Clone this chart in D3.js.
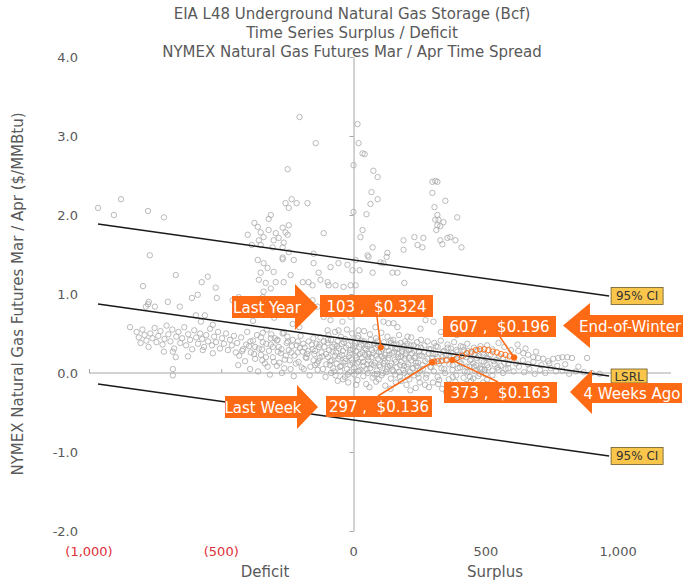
<!DOCTYPE html>
<html>
<head>
<meta charset="utf-8">
<script src="https://cdn.jsdelivr.net/npm/d3@7"></script>
<style>
  body { margin: 0; background: #fff; }
  svg text { font-family: "DejaVu Sans", Verdana, sans-serif; white-space: pre; }
</style>
</head>
<body>
<div id="chart"></div>
<script>
// ---- data (Bcf surplus/deficit vs. Mar/Apr spread, $/MMBtu) ----
const titleLines = [
    "EIA L48 Underground Natural Gas Storage (Bcf)",
    "Time Series Surplus / Deficit",
    "NYMEX Natural Gas Futures Mar / Apr Time Spread"
];
const xTicks = [-1000, -500, 0, 500, 1000];
const yTicks = [-2, -1, 0, 1, 2, 3, 4];

// regression line and 95% confidence band end points
const lsrl = [[-966, 0.873], [966, -0.038]];
const ciUpper = [[-966, 1.886], [966, 0.975]];
const ciLower = [[-966, -0.140], [966, -1.050]];

// history
const histFarLeft = [
    [-966, 2.09], [-879, 2.20], [-906, 2.00], [-777, 2.05], [-717, 1.97], [-770, 1.49], [-672, 1.24],
    [-574, 1.15], [-551, 1.22], [-521, 1.08], [-517, 0.95], [-796, 1.10], [-774, 0.90], [-777, 0.87],
    [-785, 0.84], [-751, 0.84], [-702, 0.90], [-657, 0.84], [-611, 0.95], [-589, 0.99],
    [-845, 0.58], [-596, 0.73], [-562, 0.73], [-577, 0.65], [-532, 0.61],
    [-820, 0.52], [-812, 0.45], [-805, 0.38], [-798, 0.55], [-790, 0.48], [-783, 0.41], [-775, 0.33],
    [-768, 0.50], [-760, 0.44], [-752, 0.57], [-745, 0.39], [-738, 0.47], [-730, 0.53], [-722, 0.36],
    [-715, 0.43], [-707, 0.60], [-700, 0.49], [-692, 0.40], [-685, 0.55], [-678, 0.31], [-670, 0.46],
    [-662, 0.52], [-655, 0.38], [-648, 0.44], [-640, 0.58], [-633, 0.35], [-625, 0.49], [-618, 0.42],
    [-610, 0.30], [-602, 0.54], [-595, 0.45], [-588, 0.37], [-580, 0.50], [-572, 0.43], [-565, 0.33],
    [-557, 0.48], [-550, 0.40], [-542, 0.56], [-535, 0.35], [-527, 0.46], [-520, 0.39], [-512, 0.52],
    [-505, 0.31], [-497, 0.44], [-490, 0.37], [-482, 0.50], [-475, 0.29], [-467, 0.42], [-460, 0.35],
    [-452, 0.47], [-445, 0.26],
    [-717, 0.27], [-683, 0.27], [-672, 0.20], [-626, 0.21], [-570, 0.29], [-532, 0.25], [-683, 0.05],
    [-683, -0.03], [-457, 0.92], [-434, 0.96], [-419, 0.84], [-396, 0.76]
];
const histLeft = [
    [-440, 0.38], [-432, 0.22], [-425, 0.45], [-418, 0.30], [-410, 0.15], [-402, 0.52], [-395, 0.34],
    [-388, 0.26], [-380, 0.41], [-372, 0.18], [-365, 0.48], [-358, 0.31], [-350, 0.23], [-343, 0.39],
    [-335, 0.12], [-328, 0.55], [-320, 0.28], [-313, 0.36], [-305, 0.20], [-298, 0.44], [-290, 0.09],
    [-283, 0.33], [-275, 0.25], [-268, 0.50], [-260, 0.17], [-253, 0.38], [-245, 0.29], [-238, 0.05],
    [-230, 0.42], [-223, 0.22], [-215, 0.35], [-208, 0.14], [-200, 0.47], [-193, 0.27], [-185, 0.32],
    [-178, 0.19], [-170, 0.40], [-163, 0.08], [-155, 0.30], [-148, 0.24], [-140, 0.37], [-133, 0.15],
    [-125, 0.45], [-118, 0.21], [-110, 0.33], [-103, 0.11],
    [-436, 0.10], [-421, 0.28], [-406, 0.36], [-391, 0.05], [-376, 0.24], [-361, 0.02], [-346, 0.30],
    [-331, 0.20], [-316, -0.02], [-301, 0.14], [-286, 0.27], [-271, 0.00], [-256, 0.22], [-241, 0.16],
    [-226, -0.04], [-211, 0.26], [-196, 0.07], [-181, 0.20], [-166, -0.03], [-151, 0.16], [-136, 0.04],
    [-121, 0.26], [-106, -0.05],
    [-390, 0.40], [-372, 0.33], [-350, 0.45], [-330, 0.37], [-311, 0.49], [-290, 0.41], [-272, 0.30],
    [-250, 0.46], [-233, 0.34], [-211, 0.40], [-190, 0.37], [-171, 0.28], [-152, 0.44], [-131, 0.33],
    [-112, 0.40],
    [-345, 0.16], [-325, 0.08], [-305, 0.33], [-280, 0.13], [-262, 0.06], [-248, 0.40], [-235, 0.26],
    [-218, 0.12], [-203, 0.32], [-188, 0.05], [-175, 0.24], [-158, 0.36], [-145, 0.10], [-128, 0.19],
    [-362, 1.43], [-340, 1.39], [-351, 1.27], [-325, 1.33], [-302, 1.28], [-268, 1.44], [-226, 1.43],
    [-151, 1.39], [-87, 1.34], [-57, 1.39], [-23, 1.37], [-4, 1.30], [-358, 1.18], [-332, 1.14],
    [-294, 1.15], [-264, 1.15], [-238, 1.24], [-192, 1.15], [-170, 1.15], [-155, 1.11], [-132, 1.27],
    [-125, 1.18], [-98, 1.15], [-94, 1.11], [-68, 1.11], [-38, 1.09], [-11, 1.11], [-151, 1.51],
    [-245, 1.53], [-268, 1.46],
    [-340, 1.03], [-313, 1.07], [-343, 0.96], [-362, 0.89], [-275, 0.92], [-192, 0.96], [-155, 0.92],
    [-174, 0.76], [-136, 0.84], [-113, 0.71], [-87, 0.67], [-60, 0.76], [-42, 0.65], [-11, 0.71],
    [-98, 0.54], [-57, 0.54], [-264, 0.51], [-343, 0.51], [-313, 0.44], [-287, 0.42], [-230, 0.62],
    [-205, 0.58], [-380, 0.66], [-300, 0.70]
];
const histHigh = [
    [-204, 3.24], [-143, 2.91], [-249, 2.58], [-257, 2.15], [-234, 2.20], [-215, 2.15], [-174, 2.15],
    [-245, 2.09], [-313, 2.00], [-321, 1.95], [-113, 1.77],
    [-362, 1.85], [-351, 1.78], [-340, 1.72], [-358, 1.68], [-321, 1.81], [-294, 1.77], [-302, 1.68],
    [-283, 1.71], [-268, 1.84], [-257, 1.78], [-264, 1.65], [-245, 1.87], [-306, 1.59], [-268, 1.59],
    [-249, 1.75], [-351, 1.62], [-400, 1.75], [-385, 1.62], [-375, 1.90],
    [15, 3.15], [19, 2.91], [34, 2.78], [42, 2.77], [0, 2.63], [75, 2.56], [91, 2.48], [68, 2.29],
    [91, 2.20], [64, 2.14], [0, 2.04], [49, 2.01], [34, 1.81], [26, 1.72], [72, 1.59], [53, 1.49],
    [57, 1.47], [128, 1.52], [125, 1.47], [113, 1.39], [8, 1.43], [23, 1.30], [102, 1.40], [147, 1.27],
    [166, 1.27], [72, 1.27], [192, 1.14], [8, 1.11],
    [189, 1.68], [189, 1.56], [230, 1.72], [242, 1.62], [260, 1.59], [264, 1.71], [298, 2.42],
    [309, 2.43], [317, 2.42], [298, 2.28], [347, 2.18], [306, 2.10], [317, 2.00], [309, 1.94],
    [321, 1.94], [340, 1.91], [317, 1.87], [328, 1.86], [313, 1.81], [392, 1.97], [328, 1.68],
    [336, 1.63], [355, 1.71], [366, 1.72], [385, 1.68], [408, 1.59]
];
const histCentre = [
    [8, 0.92], [34, 0.76], [53, 0.76], [75, 0.84], [113, 0.65], [132, 0.63], [151, 0.63], [166, 0.58],
    [204, 0.46], [253, 0.56], [272, 0.67], [302, 0.65], [83, 0.58], [19, 0.54],
    [-95, 0.48], [-70, 0.52], [-48, 0.46], [-25, 0.55], [-5, 0.50], [18, 0.47], [40, 0.53], [62, 0.49],
    [85, 0.44], [105, 0.51], [128, 0.46], [150, 0.42], [172, 0.48], [195, 0.40], [218, 0.45], [240, 0.39],
    [-98, 0.38], [-85, 0.42], [-72, 0.36], [-60, 0.40], [-45, 0.37], [-32, 0.43], [-20, 0.35], [-8, 0.41],
    [5, 0.38], [16, 0.44], [28, 0.36], [40, 0.40], [52, 0.34], [65, 0.42], [78, 0.37], [90, 0.40],
    [102, 0.35], [115, 0.39], [128, 0.33], [140, 0.41], [153, 0.36], [165, 0.31], [178, 0.38], [190, 0.34],
    [203, 0.37], [216, 0.30], [228, 0.35], [242, 0.32],
    [-92, 0.29], [-80, 0.33], [-66, 0.26], [-55, 0.31], [-40, 0.28], [-28, 0.32], [-14, 0.25], [-2, 0.30],
    [10, 0.27], [22, 0.33], [34, 0.26], [47, 0.30], [58, 0.24], [70, 0.29], [83, 0.32], [96, 0.26],
    [108, 0.30], [120, 0.23], [133, 0.28], [146, 0.25], [158, 0.31], [170, 0.24], [183, 0.27], [196, 0.22],
    [208, 0.29], [221, 0.25], [234, 0.21], [247, 0.27],
    [-96, 0.20], [-83, 0.16], [-70, 0.22], [-58, 0.18], [-44, 0.23], [-31, 0.15], [-18, 0.21], [-6, 0.17],
    [7, 0.22], [19, 0.14], [31, 0.19], [44, 0.23], [56, 0.16], [68, 0.20], [81, 0.13], [93, 0.18],
    [106, 0.21], [118, 0.15], [131, 0.19], [143, 0.12], [156, 0.17], [168, 0.20], [181, 0.14], [193, 0.18],
    [206, 0.11], [218, 0.16], [231, 0.19], [244, 0.13],
    [-90, 0.10], [-77, 0.06], [-64, 0.12], [-51, 0.08], [-38, 0.13], [-25, 0.05], [-12, 0.10], [1, 0.07],
    [13, 0.12], [26, 0.04], [38, 0.09], [51, 0.11], [63, 0.06], [76, 0.10], [88, 0.03], [101, 0.08],
    [113, 0.12], [126, 0.05], [138, 0.09], [151, 0.02], [163, 0.07], [176, 0.10], [188, 0.04], [201, 0.08],
    [213, 0.01], [226, 0.06], [238, 0.09], [250, 0.03],
    [-85, 0.00], [-68, -0.03], [-50, 0.02], [-33, -0.05], [-16, 0.01], [3, -0.02], [20, 0.03], [37, -0.04],
    [54, 0.00], [72, -0.06], [89, -0.01], [106, -0.03], [123, 0.01], [141, -0.07], [158, -0.02], [175, -0.05],
    [193, 0.00], [211, -0.08], [229, -0.03], [246, -0.06],
    [-60, -0.10], [-20, -0.12], [15, -0.09], [48, -0.14], [85, -0.11], [120, -0.16], [160, -0.12],
    [200, -0.15], [235, -0.19]
];
const histCore = [
    [-145, 0.28], [-138, 0.12], [-128, 0.36], [-116, 0.05], [-104, 0.24], [-97, 0.42], [-88, 0.15],
    [-79, 0.27], [-73, 0.02], [-62, 0.34], [-53, 0.21], [-46, 0.09], [-37, 0.39], [-29, 0.18], [-22, -0.02],
    [-13, 0.29], [-4, 0.13], [4, 0.34], [11, 0.19], [17, 0.02], [24, 0.24], [30, 0.41], [36, 0.14],
    [43, 0.31], [49, 0.05], [55, 0.20], [61, 0.36], [67, 0.11], [73, 0.25], [79, -0.02], [86, 0.22],
    [92, 0.35], [98, 0.10], [104, 0.27], [110, 0.00], [116, 0.19], [123, 0.33], [129, 0.08], [135, 0.23],
    [141, 0.38], [147, 0.04], [154, 0.27], [160, 0.14], [166, 0.36], [172, 0.01], [179, 0.21], [185, 0.31],
    [191, 0.09], [198, 0.25], [204, -0.04], [210, 0.19], [216, 0.35], [223, 0.06], [229, 0.28], [236, 0.13],
    [242, -0.01], [249, 0.22], [255, 0.32], [261, 0.10], [267, 0.26], [274, -0.06], [280, 0.18], [286, 0.30],
    [293, 0.07], [299, 0.24], [305, 0.13], [312, 0.34], [318, 0.20], [324, -0.09], [331, 0.15], [337, 0.27],
    [343, 0.05], [350, 0.22], [356, 0.32], [362, 0.11], [369, 0.26], [375, -0.05], [381, 0.17], [388, 0.29],
    [394, 0.06], [400, 0.23], [407, 0.12], [413, 0.33], [420, 0.02], [426, 0.20], [432, 0.28], [439, 0.08],
    [445, 0.17], [452, -0.07], [458, 0.24], [464, 0.10], [471, 0.21], [477, -0.01], [484, 0.15], [490, 0.26],
    [496, 0.04], [503, 0.19], [510, 0.07], [518, 0.23], [525, -0.03], [533, 0.11], [541, 0.17], [548, 0.04],
    [556, 0.09], [565, 0.19], [575, 0.05], [585, 0.12],
    [-40, -0.08], [10, -0.15], [60, -0.18], [95, -0.08], [140, -0.20], [180, -0.10], [215, -0.22],
    [250, -0.12], [285, -0.18], [320, -0.14], [350, -0.24], [385, -0.11], [415, -0.18], [440, -0.05],
    [470, -0.15], [505, -0.08]
];
const histRight = [
    [255, 0.42], [268, 0.35], [280, 0.40], [292, 0.30], [305, 0.38], [318, 0.33], [330, 0.41], [343, 0.28],
    [355, 0.36], [368, 0.31], [380, 0.39], [393, 0.27], [405, 0.34], [418, 0.29], [430, 0.37], [443, 0.25],
    [455, 0.32], [468, 0.28], [480, 0.34], [493, 0.23],
    [258, 0.22], [271, 0.15], [284, 0.25], [297, 0.19], [310, 0.24], [323, 0.12], [336, 0.20], [349, 0.17],
    [362, 0.23], [375, 0.10], [388, 0.18], [401, 0.14], [414, 0.21], [427, 0.08], [440, 0.16], [453, 0.12],
    [466, 0.19], [479, 0.07], [492, 0.14],
    [262, 0.05], [276, -0.02], [290, 0.08], [304, 0.02], [318, -0.05], [332, 0.06], [346, 0.00], [360, -0.08],
    [374, 0.04], [388, -0.03], [402, 0.07], [416, -0.06], [430, 0.01], [444, -0.10], [458, 0.03], [472, -0.04],
    [486, 0.05], [500, -0.02],
    [270, -0.15], [300, -0.12], [335, -0.20], [365, -0.16], [400, -0.22], [425, -0.14], [455, -0.25], [490, -0.12],
    [330, 0.52], [360, 0.60], [390, 0.48], [420, 0.55], [445, 0.50],
    [623, 0.28], [642, 0.25], [660, 0.23], [679, 0.20], [698, 0.19], [717, 0.18], [736, 0.15], [755, 0.18],
    [774, 0.19], [789, 0.20], [808, 0.20], [826, 0.19], [883, 0.19],
    [455, 0.08], [480, 0.05], [505, 0.10], [525, 0.03], [545, 0.07], [565, 0.00], [585, 0.06], [605, 0.02],
    [625, 0.08], [645, 0.01], [665, 0.05], [685, -0.01], [705, 0.04], [725, 0.00], [745, 0.06], [765, 0.02],
    [790, 0.03], [815, -0.01], [840, 0.02], [870, 0.01], [900, 0.00], [930, -0.01],
    [510, 0.18], [530, 0.15], [550, 0.21], [570, 0.13], [590, 0.17], [615, 0.12], [640, 0.16], [660, 0.11],
    [680, 0.14], [710, 0.10], [740, 0.12], [770, 0.09], [800, 0.11], [850, 0.08],
    [505, 0.35], [525, 0.30], [548, 0.38], [570, 0.33], [595, 0.29], [620, 0.36], [650, 0.31], [690, 0.27]
];

// current winter, highlighted in orange
const thisWinter = [
    [297, 0.136], [305, 0.145], [318, 0.150], [335, 0.158], [352, 0.160], [373, 0.163], [392, 0.19],
    [410, 0.22], [428, 0.25], [446, 0.27], [462, 0.29], [478, 0.30], [494, 0.30], [510, 0.29],
    [526, 0.27], [542, 0.26], [558, 0.24], [574, 0.23], [590, 0.21], [607, 0.196]
];

// labelled points: surplus (Bcf), spread ($/MMBtu)
const calloutNames = ["Last Year", "End-of-Winter", "4 Weeks Ago", "Last Week"];
const calloutX = [103, 607, 373, 297];
const calloutY = [0.324, 0.196, 0.163, 0.136];

// ---- layout ----
const W = 694, H = 583;
const ORANGE = "#ff6a14";
const GREY_TEXT = "#595959";

const x = d3.scaleLinear().domain([-1000, 1200]).range([89, 671]);
const y = d3.scaleLinear().domain([-2, 4]).range([531, 57]);

// pixel boxes for the callouts (value box + arrow), same order as calloutNames
const valueBoxes = [
    { x: 320, y: 295, w: 113, h: 22, lead: [377, 317] },
    { x: 443, y: 316, w: 113, h: 21, lead: [500, 337] },
    { x: 444, y: 382, w: 113, h: 21, lead: [498, 382] },
    { x: 326, y: 396, w: 106, h: 21, lead: [378, 396] }
];
const arrows = [
    { dir: 1, x0: 232, xb: 295, tip: 318, b0: 296, b1: 318, h0: 284, h1: 330, tx: 267 },
    { dir: -1, x0: 683, xb: 590, tip: 563, b0: 315, b1: 337, h0: 303, h1: 348, tx: 630 },
    { dir: -1, x0: 682, xb: 592, tip: 570, b0: 383, b1: 403, h0: 370, h1: 414, tx: 632 },
    { dir: 1, x0: 225, xb: 297, tip: 318, b0: 396, b1: 418, h0: 385, h1: 429, tx: 263 }
];

const svg = d3.select("#chart")
    .append("svg")
    .attr("width", W)
    .attr("height", H);

// Titles
svg.append("g")
    .selectAll("text")
    .data(titleLines)
    .join("text")
    .attr("x", 352)
    .attr("y", (d, i) => 19 + i * 19)
    .attr("text-anchor", "middle")
    .attr("font-size", 15)
    .attr("fill", GREY_TEXT)
    .text(d => d);

// Axis lines crossing at the origin
const xAxisG = svg.append("g")
    .attr("transform", `translate(0,${y(0)})`)
    .call(d3.axisTop(x).tickValues(xTicks).tickSize(4).tickSizeOuter(0).tickFormat(""));
xAxisG.select(".domain").attr("d", `M${x(-1000)},0H${x(1200)}`);

svg.append("g")
    .attr("transform", `translate(${x(0)},0)`)
    .call(d3.axisLeft(y).tickValues(yTicks).tickSize(4).tickSizeOuter(0).tickFormat(""));

svg.selectAll(".domain, .tick line").attr("stroke", "#a6a6a6").attr("stroke-width", 1);

// Tick labels sit at the edges of the plot
const fmt = d3.format(",");
svg.append("g")
    .selectAll("text")
    .data(xTicks)
    .join("text")
    .attr("x", d => x(d))
    .attr("y", 556)
    .attr("text-anchor", "middle")
    .attr("font-size", 13)
    .attr("fill", d => d < 0 ? "#e0303c" : GREY_TEXT)
    .text(d => d < 0 ? `(${fmt(-d)})` : fmt(d));

svg.append("g")
    .selectAll("text")
    .data(yTicks)
    .join("text")
    .attr("x", 78)
    .attr("y", d => y(d) + 5)
    .attr("text-anchor", "end")
    .attr("font-size", 13)
    .attr("fill", GREY_TEXT)
    .text(d => d.toFixed(1));

// Axis titles
svg.append("text")
    .attr("x", 265).attr("y", 577)
    .attr("text-anchor", "middle").attr("font-size", 15).attr("fill", GREY_TEXT)
    .text("Deficit");
svg.append("text")
    .attr("x", 495).attr("y", 577)
    .attr("text-anchor", "middle").attr("font-size", 15).attr("fill", GREY_TEXT)
    .text("Surplus");
svg.append("text")
    .attr("transform", `translate(23,${(y(4) + y(-2)) / 2}) rotate(-90)`)
    .attr("text-anchor", "middle").attr("font-size", 15).attr("fill", GREY_TEXT)
    .text("NYMEX Natural Gas Futures Mar / Apr ($/MMBtu)");

// Scatter of history
const history = [].concat(histFarLeft, histLeft, histHigh, histCentre, histCore, histRight);
svg.append("g")
    .selectAll("circle")
    .data(history)
    .join("circle")
    .attr("cx", d => x(d[0]))
    .attr("cy", d => y(d[1]))
    .attr("r", 2.7)
    .attr("fill", "none")
    .attr("stroke", "#a8a8a8")
    .attr("stroke-width", 0.8);

// Regression line and confidence band
const line = d3.line().x(d => x(d[0])).y(d => y(d[1]));
const fitLines = [
    { pts: ciUpper, label: "95% CI" },
    { pts: lsrl, label: "LSRL" },
    { pts: ciLower, label: "95% CI" }
];
svg.append("g")
    .selectAll("path")
    .data(fitLines)
    .join("path")
    .attr("d", d => line(d.pts))
    .attr("fill", "none")
    .attr("stroke", "#1a1a1a")
    .attr("stroke-width", 1.4);

// This winter in orange
svg.append("g")
    .selectAll("circle")
    .data(thisWinter)
    .join("circle")
    .attr("cx", d => x(d[0]))
    .attr("cy", d => y(d[1]))
    .attr("r", 2.7)
    .attr("fill", "none")
    .attr("stroke", ORANGE)
    .attr("stroke-width", 0.9);

// Line labels (yellow boxes at the right end)
const lineLabels = svg.append("g")
    .selectAll("g")
    .data(fitLines)
    .join("g")
    .attr("transform", d => `translate(${x(d.pts[1][0]) + 2},${y(d.pts[1][1])})`);
lineLabels.append("rect")
    .attr("x", 0)
    .attr("y", d => d.label === "LSRL" ? -7 : -8.5)
    .attr("width", d => d.label === "LSRL" ? 36 : 52)
    .attr("height", d => d.label === "LSRL" ? 14 : 17)
    .attr("fill", "#f9c54a")
    .attr("stroke", "#6b5a2a")
    .attr("stroke-width", 0.8);
lineLabels.append("text")
    .attr("x", d => d.label === "LSRL" ? 18 : 26)
    .attr("y", 4.5)
    .attr("text-anchor", "middle")
    .attr("font-size", 12)
    .attr("fill", "#333")
    .text(d => d.label);

// Callouts
const callouts = calloutNames.map((name, i) => ({
    name,
    px: calloutX[i],
    py: calloutY[i],
    box: valueBoxes[i],
    arrow: arrows[i]
}));

const cg = svg.append("g");
// leader lines and point markers
cg.selectAll("line.leader")
    .data(callouts)
    .join("line")
    .attr("class", "leader")
    .attr("x1", d => d.box.lead[0])
    .attr("y1", d => d.box.lead[1])
    .attr("x2", d => x(d.px))
    .attr("y2", d => y(d.py))
    .attr("stroke", ORANGE)
    .attr("stroke-width", 1.5);
cg.selectAll("circle.marker")
    .data(callouts)
    .join("circle")
    .attr("class", "marker")
    .attr("cx", d => x(d.px))
    .attr("cy", d => y(d.py))
    .attr("r", 3)
    .attr("fill", ORANGE);

// value boxes
cg.selectAll("rect.value")
    .data(callouts)
    .join("rect")
    .attr("class", "value")
    .attr("x", d => d.box.x)
    .attr("y", d => d.box.y)
    .attr("width", d => d.box.w)
    .attr("height", d => d.box.h)
    .attr("fill", ORANGE);
cg.selectAll("text.value")
    .data(callouts)
    .join("text")
    .attr("class", "value")
    .attr("x", d => d.box.x + d.box.w / 2)
    .attr("y", d => d.box.y + d.box.h / 2 + 5.5)
    .attr("text-anchor", "middle")
    .attr("font-size", 15)
    .attr("fill", "#fff")
    .text(d => `${d.px} ,  $${d.py.toFixed(3)}`);

// block arrows
const arrowPath = a =>
    `M${a.x0},${a.b0}H${a.xb}V${a.h0}L${a.tip},${(a.h0 + a.h1) / 2}L${a.xb},${a.h1}V${a.b1}H${a.x0}Z`;
cg.selectAll("path.arrow")
    .data(callouts)
    .join("path")
    .attr("class", "arrow")
    .attr("d", d => arrowPath(d.arrow))
    .attr("fill", ORANGE);
cg.selectAll("text.arrow")
    .data(callouts)
    .join("text")
    .attr("class", "arrow")
    .attr("x", d => d.arrow.tx)
    .attr("y", d => (d.arrow.b0 + d.arrow.b1) / 2 + 5.5)
    .attr("text-anchor", "middle")
    .attr("font-size", 15)
    .attr("fill", "#fff")
    .text(d => d.name);
</script>
</body>
</html>
